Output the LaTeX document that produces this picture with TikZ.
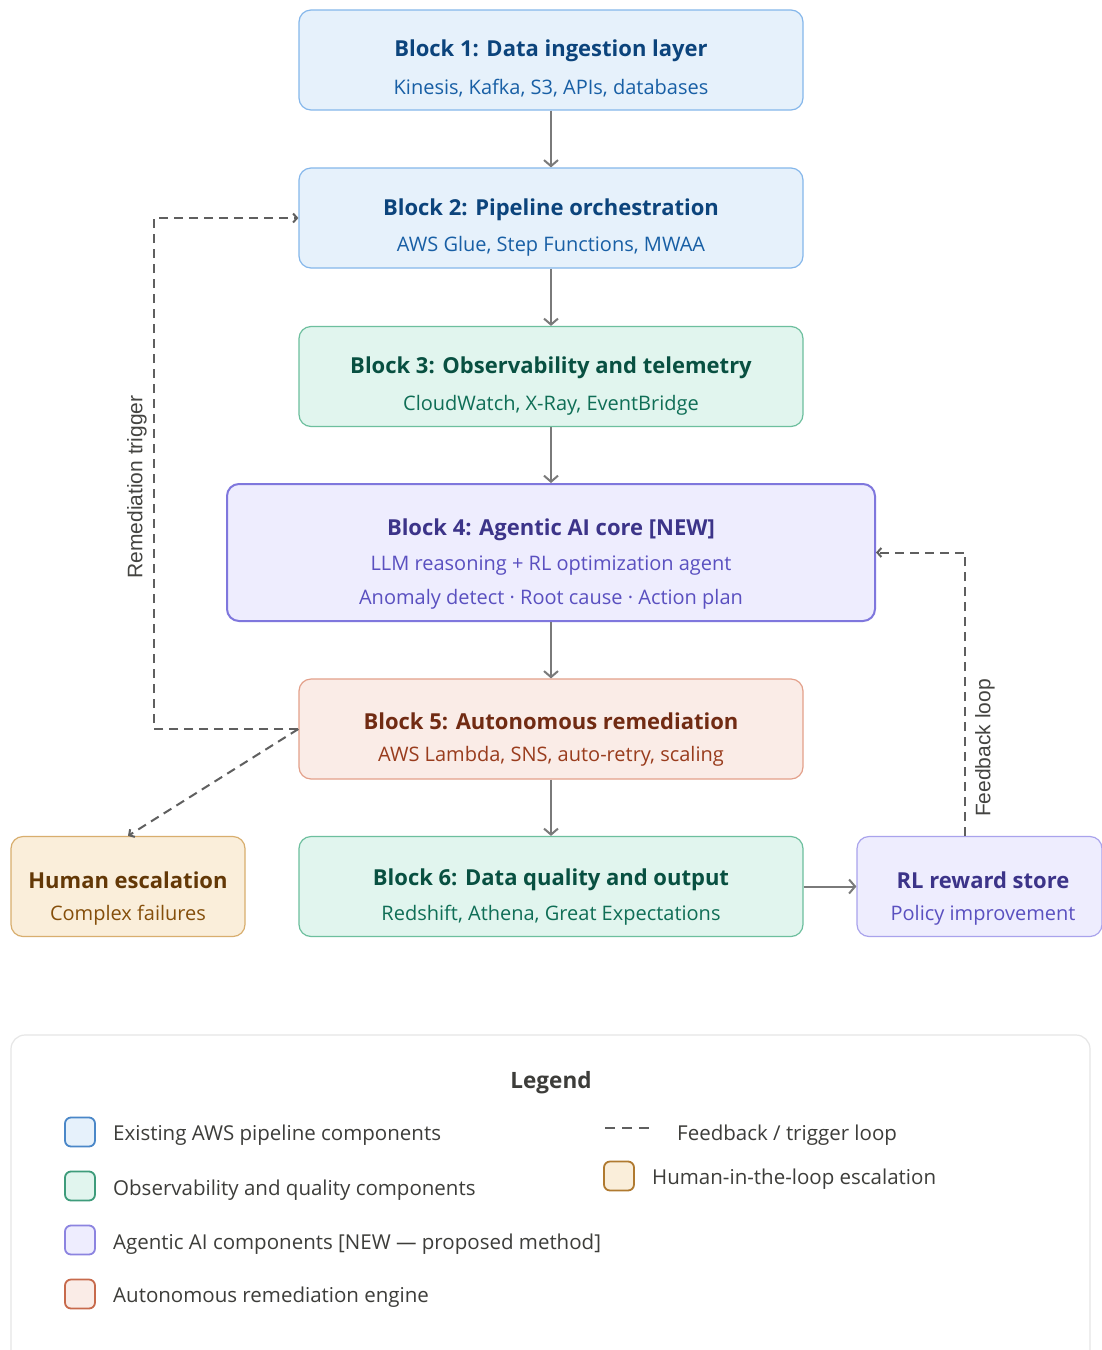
\documentclass[tikz,border=0pt]{standalone}
\usepackage{fontspec}
\setmainfont{Open Sans}
\newfontfamily\labfont{Liberation Sans}
\usetikzlibrary{arrows.meta}
\definecolor{bfill}{HTML}{E6F1FB}\definecolor{bdraw}{HTML}{85B7EB}\definecolor{btit}{HTML}{0C447C}\definecolor{bsub}{HTML}{185FA5}\definecolor{bsw}{HTML}{4A87C8}
\definecolor{tfill}{HTML}{E1F5EE}\definecolor{tdraw}{HTML}{6DBF9E}\definecolor{ttit}{HTML}{085041}\definecolor{tsub}{HTML}{0F6E56}\definecolor{tsw}{HTML}{3E9C7B}
\definecolor{pfill}{HTML}{EEEDFE}\definecolor{pdraw}{HTML}{A9A3EC}\definecolor{pdark}{HTML}{7F77DD}\definecolor{ptit}{HTML}{3C3489}\definecolor{psub}{HTML}{5A50C0}\definecolor{psw}{HTML}{8C84E0}
\definecolor{cfill}{HTML}{FAECE7}\definecolor{cdraw}{HTML}{E3A08A}\definecolor{ctit}{HTML}{712B13}\definecolor{csub}{HTML}{993C1D}\definecolor{csw}{HTML}{C76A4C}
\definecolor{afill}{HTML}{FAEEDA}\definecolor{adraw}{HTML}{D8AE6E}\definecolor{atit}{HTML}{633806}\definecolor{asub}{HTML}{854F0B}\definecolor{asw}{HTML}{B07A30}
\definecolor{arrowgray}{HTML}{7A7A7A}\definecolor{dashgray}{HTML}{5F5F5F}\definecolor{labgray}{HTML}{444441}\definecolor{legtext}{HTML}{3D3D3A}\definecolor{legborder}{HTML}{E6E6E6}
\tikzset{
  box/.style={rounded corners=12pt, line width=1.2pt, minimum width=504pt, minimum height=100pt, inner sep=0pt},
  ttl/.style={font=\fontsize{22}{26}\selectfont\bfseries, inner sep=0pt},
  subt/.style={font=\fontsize{20}{23}\selectfont, inner sep=0pt},
  flow/.style={draw=arrowgray, line width=2pt, -{Straight Barb[length=6pt,width=14pt]}},
  loopline/.style={draw=dashgray, line width=2pt, dash pattern=on 9pt off 6pt, -{Straight Barb[length=4pt,width=9pt]}},
  edgelab/.style={font=\labfont\fontsize{21}{24}\selectfont, text=labgray, inner sep=0pt, rotate=90},
  swatch/.style={rounded corners=6pt, line width=1.8pt, minimum width=30pt, minimum height=29pt, inner sep=0pt},
  legitem/.style={font=\fontsize{20.5}{24}\selectfont, text=legtext, anchor=west, inner sep=0pt}
}
\begin{document}
\begin{tikzpicture}[x=1pt,y=-1pt]
\useasboundingbox (0,0) rectangle (1101,1350);
\fill[white] (0,0) rectangle (1101,1350);
% Blocks
\node[box, fill=bfill, draw=bdraw] (b1) at (551,60) {};
\node[ttl, text=btit] (b1t) at (551,51) {Block 1: Data ingestion layer};
\node[subt, text=bsub] (b1s) at (551,88) {Kinesis, Kafka, S3, APIs, databases};
\node[box, fill=bfill, draw=bdraw] (b2) at (551,218) {};
\node[ttl, text=btit] (b2t) at (551,210) {Block 2: Pipeline orchestration};
\node[subt, text=bsub] (b2s) at (551,246) {AWS Glue, Step Functions, MWAA};
\node[box, fill=tfill, draw=tdraw] (b3) at (551,376.5) {};
\node[ttl, text=ttit] (b3t) at (551,368) {Block 3: Observability and telemetry};
\node[subt, text=tsub] (b3s) at (551,405) {CloudWatch, X-Ray, EventBridge};
\node[box, fill=pfill, draw=pdark, line width=2pt, minimum width=648pt, minimum height=137pt] (b4) at (551,552.5) {};
\node[ttl, text=ptit] (b4t) at (551,530) {Block 4: Agentic AI core [NEW]};
\node[subt, text=psub] (b4s) at (551,566) {LLM reasoning + RL optimization agent};
\node[subt, text=psub] (b4u) at (551,599) {Anomaly detect · Root cause · Action plan};
\node[box, fill=cfill, draw=cdraw] (b5) at (551,729) {};
\node[ttl, text=ctit] (b5t) at (551,721) {Block 5: Autonomous remediation};
\node[subt, text=csub] (b5s) at (551,756) {AWS Lambda, SNS, auto-retry, scaling};
\node[box, fill=tfill, draw=tdraw] (b6) at (551,886.5) {};
\node[ttl, text=ttit] (b6t) at (551,880) {Block 6: Data quality and output};
\node[subt, text=tsub] (b6s) at (551,915) {Redshift, Athena, Great Expectations};
\node[box, fill=afill, draw=adraw, minimum width=234pt] (hum) at (128,886.5) {};
\node[ttl, text=atit] (humt) at (128,880) {Human escalation};
\node[subt, text=asub] (hums) at (128,915) {Complex failures};
\node[box, fill=pfill, draw=pdraw, minimum width=245pt] (rl) at (979.5,886.5) {};
\node[ttl, text=ptit] (rlt) at (983,880) {RL reward store};
\node[subt, text=psub] (rls) at (983,915) {Policy improvement};
% Flow arrows
\draw[flow] (b1) -- (b2);
\draw[flow] (b2) -- (b3);
\draw[flow] (b3) -- (b4);
\draw[flow] (b4) -- (b5);
\draw[flow] (b5) -- (b6);
\draw[flow] (b6) -- (rl);
% Loops
\draw[loopline] (b5.west) -- ++(-144,0) |- (b2.west);
\node[edgelab] (remlab) at (137,487) {Remediation trigger};
\coordinate (fb) at (965,836);
\draw[loopline] (fb) |- (b4.east);
\node[edgelab] (fblab) at (985,748) {Feedback loop};
\draw[loopline] (b5.west) -- (hum.north);
% Legend
\draw[legborder, line width=1.2pt, rounded corners=14pt] (11,1035) rectangle (1090,1380);
\node[font=\fontsize{22.5}{26}\selectfont\bfseries, text=legtext] (legt) at (551,1083) {Legend};
\node[swatch, fill=bfill, draw=bsw] (sw1) at (80,1132) {};
\node[legitem] (lt1) at (113,1135) {Existing AWS pipeline components};
\node[swatch, fill=tfill, draw=tsw] (sw2) at (80,1186) {};
\node[legitem] (lt2) at (113,1190) {Observability and quality components};
\node[swatch, fill=pfill, draw=psw] (sw3) at (80,1240) {};
\node[legitem] (lt3) at (113,1244) {Agentic AI components [NEW — proposed method]};
\node[swatch, fill=cfill, draw=csw] (sw4) at (80,1294) {};
\node[legitem] (lt4) at (113,1297) {Autonomous remediation engine};
\coordinate (ld1) at (605,1128);
\coordinate (ld2) at (653,1128);
\draw[dashgray, line width=1.8pt, dash pattern=on 10pt off 7pt] (ld1) -- (ld2);
\node[legitem] (lt5) at (677,1135) {Feedback / trigger loop};
\node[swatch, fill=afill, draw=asw] (sw5) at (619,1176) {};
\node[legitem] (lt6) at (652,1179) {Human-in-the-loop escalation};
\end{tikzpicture}
\end{document}
